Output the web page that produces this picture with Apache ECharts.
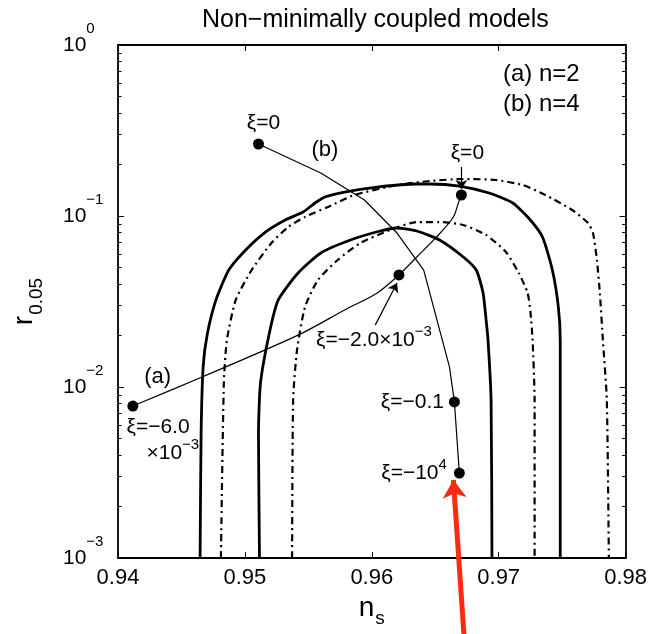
<!DOCTYPE html>
<html>
<head>
<meta charset="utf-8">
<script src="https://cdn.jsdelivr.net/npm/echarts@6/dist/echarts.min.js"></script>
<style>
html, body { margin: 0; padding: 0; background: #fff; }
#chart { width: 650px; height: 634px; }
</style>
</head>
<body>
<div id="chart"></div>
<script>
// Observational contours in the (n_s, r_0.05) plane
const solidOuterNs = [0.94647, 0.94655, 0.94671, 0.94702, 0.94772, 0.94873, 0.95006, 0.95162, 0.95318, 0.95458, 0.95552, 0.95630, 0.95786, 0.96043, 0.96355, 0.96456, 0.96690, 0.96924, 0.97111, 0.97236, 0.97345, 0.97423, 0.97470, 0.97485, 0.97485, 0.97485];
const solidOuterR  = [0.001, 0.00538, 0.0131, 0.0201, 0.0323, 0.0483, 0.0633, 0.0806, 0.0948, 0.1055, 0.1191, 0.1292, 0.1381, 0.1477, 0.1539, 0.1539, 0.1497, 0.1363, 0.1191, 0.0973, 0.0754, 0.0483, 0.0294, 0.0188, 0.00839, 0.001];

const solidInnerNs = [0.95115, 0.95107, 0.95123, 0.95193, 0.95263, 0.95419, 0.95598, 0.95832, 0.96066, 0.96199, 0.96355, 0.96534, 0.96721, 0.96823, 0.96877, 0.96901, 0.96916, 0.96940, 0.96947];
const solidInnerR  = [0.001, 0.00538, 0.01055, 0.0207, 0.0323, 0.0464, 0.0608, 0.0724, 0.0817, 0.0851, 0.0817, 0.0724, 0.0576, 0.0483, 0.0355, 0.0246, 0.0188, 0.00839, 0.001];

const dashOuterNs = [0.94811, 0.94834, 0.94858, 0.94928, 0.95053, 0.95209, 0.95341, 0.95474, 0.95653, 0.95864, 0.96199, 0.96456, 0.96721, 0.96979, 0.97189, 0.97368, 0.97579, 0.97704, 0.97743, 0.97774, 0.97797, 0.97821, 0.97852, 0.97868];
const dashOuterR  = [0.001, 0.01055, 0.0188, 0.0323, 0.0483, 0.0695, 0.0862, 0.0987, 0.1129, 0.1327, 0.1518, 0.1602, 0.1646, 0.1624, 0.1518, 0.1327, 0.1084, 0.0910, 0.0795, 0.0553, 0.0355, 0.0188, 0.00839, 0.001];

const dashInnerNs = [0.95372, 0.95380, 0.95411, 0.95474, 0.95575, 0.95731, 0.95910, 0.96144, 0.96355, 0.96534, 0.96721, 0.96901, 0.97057, 0.97158, 0.97228, 0.97251, 0.97267, 0.97283, 0.97283];
const dashInnerR  = [0.001, 0.00839, 0.0165, 0.0294, 0.0422, 0.0553, 0.0695, 0.0828, 0.0922, 0.0922, 0.0886, 0.0774, 0.0616, 0.0464, 0.0355, 0.0271, 0.0188, 0.00839, 0.001];

// Model predictions: (a) n=2 and (b) n=4
const curveANs = [0.94117, 0.94663, 0.95419, 0.95786, 0.96043, 0.96214, 0.96355, 0.96511, 0.96643, 0.96682, 0.96706];
const curveAR  = [0.00774, 0.01144, 0.0201, 0.0282, 0.0355, 0.0452, 0.0576, 0.0754, 0.0987, 0.1191, 0.1327];

const curveBNs = [0.95107, 0.95598, 0.95942, 0.96199, 0.96409, 0.96612, 0.96651, 0.96690];
const curveBR  = [0.2637, 0.1784, 0.1241, 0.0795, 0.0483, 0.0131, 0.00818, 0.00314];

// Marked coupling values
const markANs = [0.94117, 0.96214, 0.96706];
const markAR  = [0.00774, 0.0452, 0.1327];
const markALabels = ['{t|ξ=−6.0}\n{i|×10}{e|−3}', '{t|ξ=−2.0×10}{e|−3}', '{t|ξ=0}'];

const markBNs = [0.95107, 0.96651, 0.96690];
const markBR  = [0.2637, 0.00818, 0.00314];
const markBLabels = ['{t|ξ=0}', '{t|ξ=−0.1}', '{t|ξ=−10}{e|4}'];

// Pointer arrows: [from, to]
const arrowFrom = [[0.96706, 0.1934], [0.96027, 0.0230]];
const arrowTo   = [[0.96706, 0.1439], [0.96199, 0.0406]];
const redArrowFrom = [0.96729, 0.000332];
const redArrowTo   = [0.96643, 0.00286];

// Axis ticks
const yMajor = [0.001, 0.01, 0.1, 1];
const yMinor = [];
[0.001, 0.01, 0.1].forEach(function (d) {
  for (let k = 2; k <= 9; k++) yMinor.push(+(d * k).toPrecision(3));
});

const FONT = '"Liberation Sans", Arial, Helvetica, sans-serif';

function zip(xs, ys) { return xs.map(function (x, i) { return [x, ys[i]]; }); }

const richAnno = {
  t: { fontSize: 21, lineHeight: 20, fontFamily: FONT, color: '#000', verticalAlign: 'middle', align: 'left' },
  i: { fontSize: 21, lineHeight: 20, fontFamily: FONT, color: '#000', verticalAlign: 'middle', align: 'left', padding: [0, 0, 0, 20] },
  e: { fontSize: 15, lineHeight: 32, fontFamily: FONT, color: '#000', verticalAlign: 'top', align: 'left' }
};

function contour(name, xs, ys, dashed) {
  return {
    name: name, type: 'line', data: zip(xs, ys), showSymbol: false, smooth: 0.2,
    silent: true, z: 2,
    lineStyle: { color: '#000', width: dashed ? 2.2 : 2.8, type: dashed ? [7, 4, 2, 4] : 'solid' }
  };
}

const markLabelCfgA = [
  { position: 'inside', offset: [30, 37] },
  { position: 'inside', offset: [-25, 65] },
  { position: 'inside', offset: [6, -42] }
];
const markLabelCfgB = [
  { position: 'inside', offset: [5, -21] },
  { position: 'left', distance: 5 },
  { position: 'left', distance: 7 }
];

function markers(name, xs, ys, labels, cfg) {
  return {
    name: name, type: 'scatter', symbol: 'circle', symbolSize: 11, z: 5, silent: true,
    itemStyle: { color: '#000', opacity: 1 },
    data: xs.map(function (x, i) {
      return {
        value: [x, ys[i]],
        label: Object.assign({ show: true, formatter: labels[i], rich: richAnno, color: '#000' }, cfg[i])
      };
    })
  };
}

function yAxisCfg(pos, major) {
  return {
    type: 'log', logBase: 10, min: 0.001, max: 1, position: pos,
    axisLine: { show: major, onZero: false, lineStyle: { color: '#000', width: 1.8 } },
    axisTick: { show: true, inside: true, length: major ? 6 : 3.5, customValues: major ? yMajor : yMinor, lineStyle: { color: '#000', width: 1 } },
    axisLabel: { show: false },
    splitLine: { show: false }
  };
}

const yLeft = yAxisCfg('left', true);
yLeft.axisLabel = {
  show: true, customValues: yMajor, align: 'left', margin: 55,
  formatter: function (v) {
    const p = Math.round(Math.log10(v));
    return '{b|10}{e|' + (p < 0 ? '−' + (-p) : String(p)) + '}';
  },
  rich: {
    b: { fontSize: 21, lineHeight: 48, fontFamily: FONT, color: '#000', verticalAlign: 'middle' },
    e: { fontSize: 15, lineHeight: 48, fontFamily: FONT, color: '#000', verticalAlign: 'top' }
  }
};
yLeft.name = '{m|r}{s|0.05}';
yLeft.nameLocation = 'middle';
yLeft.nameRotate = 90;
yLeft.nameGap = 72;
yLeft.nameTextStyle = {
  rich: {
    m: { fontSize: 28, lineHeight: 44, fontFamily: FONT, color: '#000', verticalAlign: 'middle' },
    s: { fontSize: 19, lineHeight: 44, fontFamily: FONT, color: '#000', verticalAlign: 'bottom', padding: [0, 0, 0, 1] }
  }
};

function xAxisCfg(pos) {
  return {
    type: 'value', min: 0.94, max: 0.98, interval: 0.01, position: pos,
    axisLine: { show: true, onZero: false, lineStyle: { color: '#000', width: 1.8 } },
    axisTick: { show: true, inside: true, length: 6, lineStyle: { color: '#000', width: 1 } },
    axisLabel: { show: false },
    splitLine: { show: false }
  };
}
const xBottom = xAxisCfg('bottom');
xBottom.axisLabel = {
  show: true, margin: 9, fontSize: 22, fontFamily: FONT, color: '#000',
  formatter: function (v) { return v.toFixed(2); }
};
xBottom.name = '{m|n}{s|s}';
xBottom.nameLocation = 'middle';
xBottom.nameGap = 30;
xBottom.nameTextStyle = {
  rich: {
    m: { fontSize: 28, lineHeight: 40, fontFamily: FONT, color: '#000', verticalAlign: 'middle' },
    s: { fontSize: 19, lineHeight: 40, fontFamily: FONT, color: '#000', verticalAlign: 'bottom', padding: [0, 0, 0, 1] }
  }
};

const chart = echarts.init(document.getElementById('chart'), null, { renderer: 'canvas' });

chart.setOption({
  animation: false,
  backgroundColor: '#fff',
  title: {
    text: 'Non−minimally coupled models',
    left: 197, top: 3,
    textStyle: { fontSize: 25, fontWeight: 'normal', fontFamily: FONT, color: '#000' }
  },
  grid: { left: 118, right: 19, top: 45, bottom: 76, containLabel: false },
  xAxis: [xBottom, xAxisCfg('top')],
  yAxis: [yLeft, yAxisCfg('left', false), yAxisCfg('right', true), yAxisCfg('right', false)],
  graphic: [
    { type: 'text', left: 503, top: 62, style: { text: '(a) n=2', font: '24px ' + FONT, fill: '#000' } },
    { type: 'text', left: 503, top: 92, style: { text: '(b) n=4', font: '24px ' + FONT, fill: '#000' } }
  ],
  series: [
    contour('solid outer', solidOuterNs, solidOuterR, false),
    contour('solid inner', solidInnerNs, solidInnerR, false),
    contour('dash outer', dashOuterNs, dashOuterR, true),
    contour('dash inner', dashInnerNs, dashInnerR, true),
    {
      name: '(a) n=2', type: 'line', data: zip(curveANs, curveAR), showSymbol: false, smooth: 0.3, silent: true, z: 3,
      lineStyle: { color: '#000', width: 1.2 },
      markPoint: {
        symbol: 'circle', symbolSize: 1, itemStyle: { color: 'rgba(0,0,0,0)' },
        label: { show: true, position: 'inside', fontSize: 22, fontFamily: FONT, color: '#000', formatter: '(a)' },
        data: [{ coord: [0.94312, 0.01144] }]
      }
    },
    {
      name: '(b) n=4', type: 'line', data: zip(curveBNs, curveBR), showSymbol: false, smooth: false, silent: true, z: 3,
      lineStyle: { color: '#000', width: 1.2 },
      markPoint: {
        symbol: 'circle', symbolSize: 1, itemStyle: { color: 'rgba(0,0,0,0)' },
        label: { show: true, position: 'inside', fontSize: 22, fontFamily: FONT, color: '#000', formatter: '(b)' },
        data: [{ coord: [0.95630, 0.2432] }]
      }
    },
    markers('marks a', markANs, markAR, markALabels, markLabelCfgA),
    markers('marks b', markBNs, markBR, markBLabels, markLabelCfgB),
    {
      name: 'pointers', type: 'lines', coordinateSystem: 'cartesian2d', silent: true, z: 4,
      symbol: ['none', 'arrow'], symbolSize: 9,
      lineStyle: { color: '#000', width: 1.2, opacity: 1, curveness: 0 },
      data: arrowFrom.map(function (f, i) { return { coords: [f, arrowTo[i]] }; })
    },
    {
      name: 'highlight', type: 'lines', coordinateSystem: 'cartesian2d', silent: true, z: 6, clip: false,
      symbol: ['none', 'arrow'], symbolSize: [16, 18],
      lineStyle: { color: '#fc2a14', width: 5, opacity: 1, curveness: 0 },
      data: [{ coords: [redArrowFrom, redArrowTo] }]
    }
  ]
});
</script>
</body>
</html>
